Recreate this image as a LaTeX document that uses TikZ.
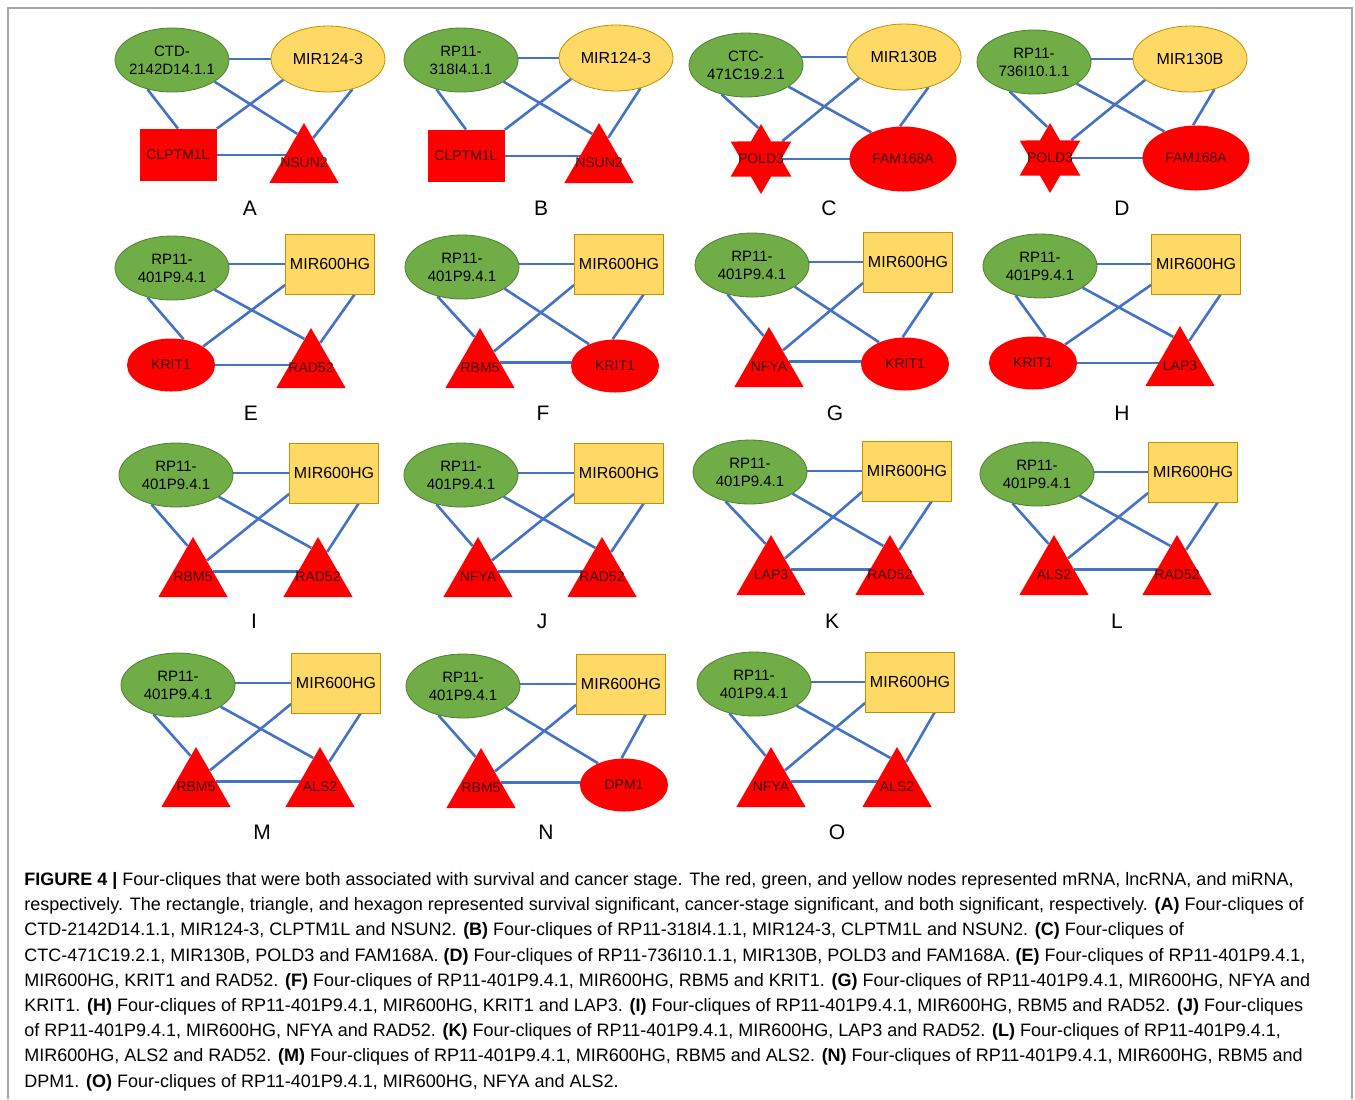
\documentclass[tikz,border=0pt]{standalone}
\usepackage{fontspec}
\setmainfont{Liberation Sans}
\usetikzlibrary{shapes.geometric,backgrounds}

\definecolor{lncgreen}{HTML}{70AD47}
\definecolor{lncline}{HTML}{507E32}
\definecolor{miryellow}{HTML}{FFD966}
\definecolor{mirline}{HTML}{BF9000}
\definecolor{mred}{HTML}{FF0000}
\definecolor{mtext}{HTML}{3A0A0A}
\definecolor{linkblue}{HTML}{4472C4}
\definecolor{framegray}{HTML}{A6A6A6}

% #1 panel, #2-#4 anchors on the left mRNA, #5-#7 anchors on the right mRNA
\newcommand{\clique}[7]{%
  \begin{pgfonlayer}{background}
    \draw[link] (#1-lnc.center |- #1-mir.west) -- (#1-mir.west);
    \draw[link] (#1-lnc.230) -- (#1-m1.#2);
    \draw[link] (#1-mir.205) -- (#1-m1.#3);
    \draw[link] (#1-lnc.333) -- (#1-m2.#5);
    \draw[link] (#1-mir.309) -- (#1-m2.#6);
    \draw[link] (#1-m1.#4) -- (#1-m1.#4 -| #1-m2.#7);
  \end{pgfonlayer}}

\begin{document}
\begin{tikzpicture}[x=0.5pt,y=-0.5pt,
    lnc/.style={ellipse,draw=lncline,fill=lncgreen,minimum width=57pt,minimum height=32pt,inner xsep=-1.5pt,inner ysep=0pt,align=center,font=\fontsize{7.5}{9}\selectfont},
    mirell/.style={ellipse,draw=mirline,fill=miryellow,minimum width=57pt,minimum height=33pt,inner sep=0pt,font=\fontsize{8}{9}\selectfont},
    mirbox/.style={rectangle,draw=mirline,fill=miryellow,minimum width=44.5pt,minimum height=30pt,inner sep=0pt,font=\fontsize{8}{9}\selectfont},
    mtxt/.style={text=mtext,font=\fontsize{7}{8}\selectfont,inner sep=0pt},
    mbox/.style={rectangle,fill=mred,minimum width=38.5pt,minimum height=26pt,mtxt},
    mell/.style={ellipse,fill=mred,minimum width=44pt,minimum height=26.5pt,mtxt},
    mtri/.style={regular polygon,regular polygon sides=3,fill=mred,minimum size=40pt,inner sep=0pt,label={[mtxt]center:#1}},
    mstar/.style={star,star points=6,star point ratio=1.73,fill=mred,minimum size=35pt,inner sep=0pt,label={[mtxt]center:#1}},
    link/.style={draw=linkblue,line width=1.3pt},
    panel/.style={font=\fontsize{10.5}{12}\selectfont}]
  \useasboundingbox (0,0) rectangle (1355,1099);
  \draw[framegray,line width=0.7pt] (8,1099) -- (8,8) -- (1352,8) -- (1352,1099);

  % A
  \node[lnc] (A-lnc) at (172,60) {CTD-\\2142D14.1.1};
  \node[mirell] (A-mir) at (328,59) {MIR124-3};
  \node[mbox] (A-m1) at (178,155) {CLPTM1L};
  \node[mtri=NSUN2] (A-m2) at (304,163) {};
  \node[panel] (A-tag) at (250,208) {A};
  \clique{A}{90}{north east}{0}{103}{70}{center}
  % B
  \node[lnc] (B-lnc) at (461,60) {RP11-\\318I4.1.1};
  \node[mirell] (B-mir) at (616,58) {MIR124-3};
  \node[mbox] (B-m1) at (466,156) {CLPTM1L};
  \node[mtri=NSUN2] (B-m2) at (599,163) {};
  \node[panel] (B-tag) at (541,208) {B};
  \clique{B}{90}{north east}{0}{103}{70}{center}
  % C
  \node[lnc] (C-lnc) at (746,65) {CTC-\\471C19.2.1};
  \node[mirell] (C-mir) at (904,57) {MIR130B};
  \node[mstar=POLD3] (C-m1) at (761,159) {};
  \node[mell,minimum width=53.5pt,minimum height=32.5pt] (C-m2) at (903,159) {FAM168A};
  \node[panel] (C-tag) at (829,208) {C};
  \clique{C}{95}{40}{0}{140}{95}{center}
  % D
  \node[lnc] (D-lnc) at (1034,62) {RP11-\\736I10.1.1};
  \node[mirell] (D-mir) at (1190,59) {MIR130B};
  \node[mstar=POLD3] (D-m1) at (1050,158) {};
  \node[mell,minimum width=53.5pt,minimum height=32.5pt] (D-m2) at (1196,158) {FAM168A};
  \node[panel] (D-tag) at (1122,208) {D};
  \clique{D}{95}{40}{0}{140}{95}{center}

  % E
  \node[lnc] (E-lnc) at (172,268) {RP11-\\401P9.4.1};
  \node[mirbox] (E-mir) at (330,264) {MIR600HG};
  \node[mell] (E-m1) at (171,365) {KRIT1};
  \node[mtri=RAD52] (E-m2) at (311,368) {};
  \node[panel] (E-tag) at (251,413) {E};
  \clique{E}{64}{30}{0}{103}{70}{center}
  % F
  \node[lnc] (F-lnc) at (462,267) {RP11-\\401P9.4.1};
  \node[mirbox] (F-mir) at (619,264) {MIR600HG};
  \node[mtri=RBM5] (F-m1) at (480,368) {};
  \node[mell] (F-m2) at (615,366) {KRIT1};
  \node[panel] (F-tag) at (543,413) {F};
  \clique{F}{100}{50}{15}{140}{95}{center}
  % G
  \node[lnc] (G-lnc) at (752,265) {RP11-\\401P9.4.1};
  \node[mirbox] (G-mir) at (908,262) {MIR600HG};
  \node[mtri=NFYA] (G-m1) at (769,367) {};
  \node[mell] (G-m2) at (905,364) {KRIT1};
  \node[panel] (G-tag) at (835,413) {G};
  \clique{G}{100}{50}{15}{140}{95}{center}
  % H
  \node[lnc] (H-lnc) at (1040,266) {RP11-\\401P9.4.1};
  \node[mirbox] (H-mir) at (1196,264) {MIR600HG};
  \node[mell] (H-m1) at (1033,363) {KRIT1};
  \node[mtri=LAP3] (H-m2) at (1180,366) {};
  \node[panel] (H-tag) at (1122,413) {H};
  \clique{H}{64}{30}{0}{103}{70}{center}

  % I
  \node[lnc] (I-lnc) at (176,475) {RP11-\\401P9.4.1};
  \node[mirbox] (I-mir) at (334,473) {MIR600HG};
  \node[mtri=RBM5] (I-m1) at (193,577) {};
  \node[mtri=RAD52] (I-m2) at (318,577) {};
  \node[panel] (I-tag) at (254,621) {I};
  \clique{I}{100}{50}{15}{103}{70}{center}
  % J
  \node[lnc] (J-lnc) at (461,475) {RP11-\\401P9.4.1};
  \node[mirbox] (J-mir) at (619,473) {MIR600HG};
  \node[mtri=NFYA] (J-m1) at (478,577) {};
  \node[mtri=RAD52] (J-m2) at (602,577) {};
  \node[panel] (J-tag) at (542,621) {J};
  \clique{J}{100}{50}{15}{103}{70}{center}
  % K
  \node[lnc] (K-lnc) at (750,472) {RP11-\\401P9.4.1};
  \node[mirbox] (K-mir) at (907,471) {MIR600HG};
  \node[mtri=LAP3] (K-m1) at (771,575) {};
  \node[mtri=RAD52] (K-m2) at (890,575) {};
  \node[panel] (K-tag) at (832,621) {K};
  \clique{K}{100}{50}{15}{103}{70}{center}
  % L
  \node[lnc] (L-lnc) at (1037,474) {RP11-\\401P9.4.1};
  \node[mirbox] (L-mir) at (1193,472) {MIR600HG};
  \node[mtri=ALS2] (L-m1) at (1054,575) {};
  \node[mtri=RAD52] (L-m2) at (1177,575) {};
  \node[panel] (L-tag) at (1117,621) {L};
  \clique{L}{100}{50}{15}{103}{70}{center}

  % M
  \node[lnc] (M-lnc) at (178,685) {RP11-\\401P9.4.1};
  \node[mirbox] (M-mir) at (336,683) {MIR600HG};
  \node[mtri=RBM5] (M-m1) at (196,787) {};
  \node[mtri=ALS2] (M-m2) at (320,787) {};
  \node[panel] (M-tag) at (262,832) {M};
  \clique{M}{100}{50}{15}{103}{70}{center}
  % N
  \node[lnc] (N-lnc) at (463,686) {RP11-\\401P9.4.1};
  \node[mirbox] (N-mir) at (621,684) {MIR600HG};
  \node[mtri=RBM5] (N-m1) at (481,788) {};
  \node[mell] (N-m2) at (624,785) {DPM1};
  \node[panel] (N-tag) at (546,832) {N};
  \clique{N}{100}{50}{15}{140}{95}{center}
  % O
  \node[lnc] (O-lnc) at (754,684) {RP11-\\401P9.4.1};
  \node[mirbox] (O-mir) at (910,682) {MIR600HG};
  \node[mtri=NFYA] (O-m1) at (771,787) {};
  \node[mtri=ALS2] (O-m2) at (897,787) {};
  \node[panel] (O-tag) at (837,832) {O};
  \clique{O}{100}{50}{15}{103}{70}{center}

  \node[anchor=north west,align=left,inner sep=0pt,font=\fontsize{9}{12.6}\selectfont] (caption) at (24,872) {%
    \textbf{FIGURE 4 |} Four-cliques that were both associated with survival and cancer stage. The red, green, and yellow nodes represented mRNA, lncRNA, and miRNA,\\
    respectively. The rectangle, triangle, and hexagon represented survival significant, cancer-stage significant, and both significant, respectively. \textbf{(A)} Four-cliques of\\
    CTD-2142D14.1.1, MIR124-3, CLPTM1L and NSUN2. \textbf{(B)} Four-cliques of RP11-318I4.1.1, MIR124-3, CLPTM1L and NSUN2. \textbf{(C)} Four-cliques of\\
    CTC-471C19.2.1, MIR130B, POLD3 and FAM168A. \textbf{(D)} Four-cliques of RP11-736I10.1.1, MIR130B, POLD3 and FAM168A. \textbf{(E)} Four-cliques of RP11-401P9.4.1,\\
    MIR600HG, KRIT1 and RAD52. \textbf{(F)} Four-cliques of RP11-401P9.4.1, MIR600HG, RBM5 and KRIT1. \textbf{(G)} Four-cliques of RP11-401P9.4.1, MIR600HG, NFYA and\\
    KRIT1. \textbf{(H)} Four-cliques of RP11-401P9.4.1, MIR600HG, KRIT1 and LAP3. \textbf{(I)} Four-cliques of RP11-401P9.4.1, MIR600HG, RBM5 and RAD52. \textbf{(J)} Four-cliques\\
    of RP11-401P9.4.1, MIR600HG, NFYA and RAD52. \textbf{(K)} Four-cliques of RP11-401P9.4.1, MIR600HG, LAP3 and RAD52. \textbf{(L)} Four-cliques of RP11-401P9.4.1,\\
    MIR600HG, ALS2 and RAD52. \textbf{(M)} Four-cliques of RP11-401P9.4.1, MIR600HG, RBM5 and ALS2. \textbf{(N)} Four-cliques of RP11-401P9.4.1, MIR600HG, RBM5 and\\
    DPM1. \textbf{(O)} Four-cliques of RP11-401P9.4.1, MIR600HG, NFYA and ALS2.};
\end{tikzpicture}
\end{document}
